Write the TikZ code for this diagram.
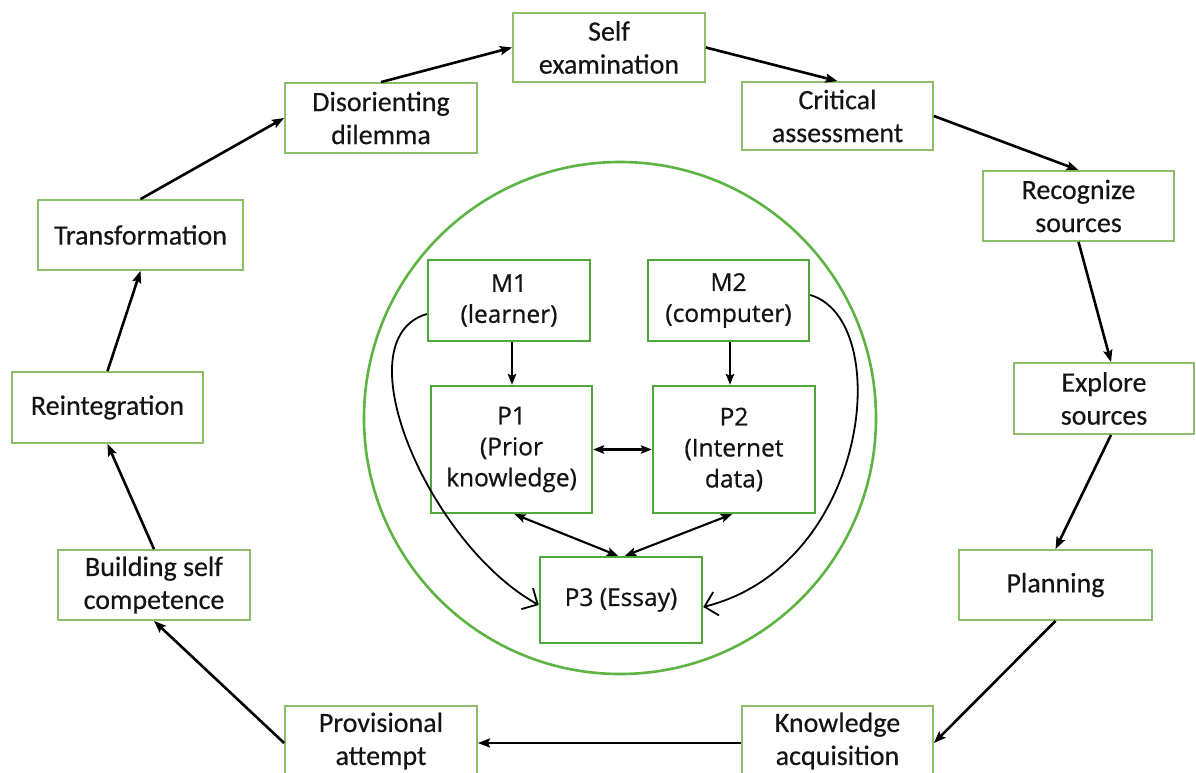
\documentclass[tikz,border=0pt]{standalone}
\usepackage{fontspec}
\setmainfont{Carlito}[BoldFont=Carlito,BoldFeatures={FakeBold=0.35}]
\newfontfamily\innerfont{Open Sans}[BoldFont=Open Sans,BoldFeatures={FakeBold=0.7}]
\usetikzlibrary{arrows.meta,calc}
\definecolor{obox}{HTML}{8CC068}
\definecolor{ibox}{HTML}{4EA83A}
\definecolor{circ}{HTML}{5DB443}
\definecolor{txt}{HTML}{141414}
\begin{document}
\begin{tikzpicture}[x=1pt,y=-1pt,
  outerbox/.style={draw=obox,line width=1.8pt,fill=white,text=txt,align=center,
    minimum width=192pt,minimum height=70pt,inner sep=0pt,
    font=\bfseries\fontsize{28}{33}\selectfont},
  innerbox/.style={draw=ibox,line width=2.4pt,fill=white,text=txt,align=center,
    inner sep=0pt,font=\innerfont\bfseries\fontsize{24.5}{31}\selectfont},
  ringarrow/.style={line width=2.6pt,black,-{Stealth[length=12pt,width=9pt,inset=2pt]}},
  innerarrow/.style={line width=2.1pt,black,-{Stealth[length=11pt,width=8.5pt,inset=2pt]}},
  twoarrow/.style={line width=2.1pt,black,{Stealth[length=11pt,width=8.5pt,inset=2pt]}-{Stealth[length=11pt,width=8.5pt,inset=2pt]}},
  curvearrow/.style={line width=1.8pt,black,-{Straight Barb[length=12pt,width=24pt,line width=1.8pt]}}
]
\clip (0,0) rectangle (1196,773);
\fill[white] (0,0) rectangle (1196,773);

% circle
\node[draw=circ,line width=2.6pt,circle,minimum size=512pt,inner sep=0pt] (ring) at (620,418) {};

% outer nodes
\node[outerbox,minimum width=192pt,minimum height=69pt] (self) at (609,47.5) {Self\\examination};
\node[outerbox,minimum width=191pt,minimum height=68pt] (crit) at (837.5,116) {Critical\\assessment};
\node[outerbox] (dis) at (381,118) {Disorienting\\dilemma};
\node[outerbox,minimum width=205pt] (trans) at (140.5,235) {Transformation};
\node[outerbox,minimum width=191pt] (rec) at (1078.5,206) {Recognize\\sources};
\node[outerbox,minimum width=180pt,minimum height=71pt] (exp) at (1104,398.5) {Explore\\sources};
\node[outerbox,minimum width=191pt,minimum height=71pt] (reint) at (107.5,407.5) {Reintegration};
\node[outerbox,minimum width=193pt] (plan) at (1055.5,585) {Planning};
\node[outerbox] (build) at (154,585) {Building self\\competence};
\node[outerbox] (prov) at (381,741) {Provisional\\attempt};
\node[outerbox,minimum width=191pt] (know) at (837.5,741) {Knowledge\\acquisition};

% ring arrows
\draw[ringarrow] (dis.north) -- (self.west);
\draw[ringarrow] (self.east) -- (crit.north);
\draw[ringarrow] (crit.east) -- (rec.north);
\draw[ringarrow] (rec.south) -- ([xshift=7pt]exp.north);
\draw[ringarrow] ([xshift=7pt]exp.south) -- (plan.north);
\draw[ringarrow] (plan.south) -- ([yshift=-2pt]know.east);
\draw[ringarrow] ([yshift=-2pt]know.west) -- ([yshift=-2pt]prov.east);
\draw[ringarrow] ([yshift=-2pt]prov.west) -- (build.south);
\draw[ringarrow] (build.north) -- (reint.south);
\draw[ringarrow] (reint.north) -- (trans.south);
\draw[ringarrow] (trans.north) -- (dis.west);

% inner nodes
\node[innerbox,minimum width=162pt,minimum height=81pt] (m1) at (509,300.5) {M1\\(learner)};
\node[innerbox,minimum width=161pt,minimum height=81pt] (m2) at (728.5,300.5) {M2\\(computer)};
\node[innerbox,minimum width=161pt,minimum height=127pt] (p1) at (511.5,449.5) {P1\\(Prior\\knowledge)};
\node[innerbox,minimum width=162pt,minimum height=127pt] (p2) at (734,449.5) {P2\\(Internet\\data)};
\node[innerbox,minimum width=162pt,minimum height=86pt] (p3) at (621,600) {P3 (Essay)};

% inner arrows
\draw[innerarrow] ([xshift=3pt]m1.south) -- ([xshift=3pt]m1.south |- p1.north);
\draw[innerarrow] ([xshift=1.5pt]m2.south) -- ([xshift=1.5pt]m2.south |- p2.north);
\draw[twoarrow] (p1.east) -- (p2.west);
\draw[twoarrow] ([xshift=3pt]p1.south) -- ([xshift=-3pt]p3.north);
\draw[twoarrow] ([xshift=-2pt]p2.south) -- ([xshift=4pt]p3.north);

% curved arrows
\coordinate (m1l) at ($(m1.west)+(0,13.5)$);
\coordinate (m2r) at ($(m2.east)+(0,-5.5)$);
\coordinate (p3l) at ($(p3.west)+(0,5)$);
\coordinate (p3r) at ($(p3.east)+(0,7)$);
\draw[curvearrow] (m1l) .. controls (340,340) and (430,545) .. (p3l);
\draw[curvearrow] (m2r) .. controls (895,320) and (870,565) .. (p3r);
\end{tikzpicture}
\end{document}
